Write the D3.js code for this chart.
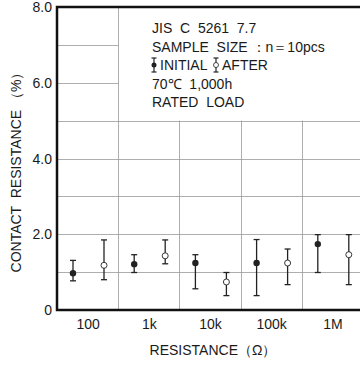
<!DOCTYPE html>
<html>
<head>
<meta charset="utf-8">
<script src="https://cdn.jsdelivr.net/npm/d3@7"></script>
<style>
  body { margin: 0; background: #fff; }
  text { font-family: "Liberation Sans", Arial, sans-serif; fill: #1a1a1a; white-space: pre; }
</style>
</head>
<body>
<svg id="chart"></svg>
<script>
const categories = ["100", "1k", "10k", "100k", "1M"];
const initialMean = [0.97, 1.21, 1.24, 1.24, 1.74];
const initialMin  = [0.77, 0.99, 0.56, 0.38, 0.99];
const initialMax  = [1.31, 1.46, 1.46, 1.86, 1.99];
const afterMean = [1.18, 1.43, 0.74, 1.24, 1.46];
const afterMin  = [0.80, 1.22, 0.38, 0.67, 0.67];
const afterMax  = [1.85, 1.85, 0.99, 1.61, 1.99];
const yTicks = [0, 2, 4, 6, 8];
const legendLines = ["JIS  C  5261  7.7", "SAMPLE  SIZE ：n＝10pcs", null, "70℃  1,000h", "RATED  LOAD"];

const width = 360, height = 365;
const mLeft = 57, mTop = 7, mBottom = 310, mRight = 363;
const svg = d3.select("#chart").attr("width", width).attr("height", height);

const x = d3.scaleBand().domain(categories).range([mLeft, mRight]);
const sub = d3.scalePoint().domain(["initial", "after"]).range([16, 47]);
const y = d3.scaleLinear().domain([0, 8]).range([mBottom, mTop]);

// grid
const grid = svg.append("g").attr("stroke", "#999").attr("stroke-width", 0.8);
[1, 2, 3, 4, 5, 6, 7].forEach(v => {
  grid.append("line")
    .attr("x1", mLeft).attr("x2", v > 5 ? x("1k") : width)
    .attr("y1", Math.round(y(v)) + 0.5).attr("y2", Math.round(y(v)) + 0.5);
});
categories.slice(1).forEach((c, i) => {
  grid.append("line")
    .attr("x1", Math.round(x(c)) + 0.5).attr("x2", Math.round(x(c)) + 0.5)
    .attr("y1", i === 0 ? mTop : y(5)).attr("y2", mBottom);
});

// frame
svg.append("path")
  .attr("d", `M${width},${mTop}H${mLeft}V${mBottom}H${width}`)
  .attr("fill", "none").attr("stroke", "#111").attr("stroke-width", 2.5);

// y tick labels
svg.append("g").selectAll("text").data(yTicks).join("text")
  .attr("x", 52).attr("y", d => y(d)).attr("dy", "0.36em")
  .attr("text-anchor", "end").attr("font-size", 14)
  .text(d => d === 0 ? "0" : d.toFixed(1));

// x tick labels
svg.append("g").selectAll("text").data(categories).join("text")
  .attr("x", d => x(d) + x.bandwidth() / 2 + 0.5).attr("y", 329)
  .attr("text-anchor", "middle").attr("font-size", 14)
  .text(d => d);

// axis titles
svg.append("text").attr("x", 213).attr("y", 355)
  .attr("text-anchor", "middle").attr("font-size", 14)
  .text("RESISTANCE（Ω）");
svg.append("text")
  .attr("transform", "translate(21,169) rotate(-90)")
  .attr("text-anchor", "middle").attr("font-size", 14)
  .text("CONTACT  RESISTANCE （%）");

// error bars
function drawSeries(key, mean, lo, hi, filled) {
  const g = svg.append("g").attr("stroke", "#222").attr("stroke-width", 1.3);
  categories.forEach((c, i) => {
    const cx = x(c) + sub(key);
    g.append("line").attr("x1", cx).attr("x2", cx).attr("y1", y(lo[i])).attr("y2", y(hi[i]));
    [lo[i], hi[i]].forEach(v => {
      g.append("line").attr("x1", cx - 3).attr("x2", cx + 3).attr("y1", y(v)).attr("y2", y(v));
    });
    g.append("circle").attr("cx", cx).attr("cy", y(mean[i]))
      .attr("r", filled ? 3.2 : 3)
      .attr("fill", filled ? "#222" : "#fff")
      .attr("stroke-width", filled ? 0 : 0.9);
  });
}
drawSeries("initial", initialMean, initialMin, initialMax, true);
drawSeries("after", afterMean, afterMin, afterMax, false);

// legend
const lg = svg.append("g").attr("font-size", 14);
legendLines.forEach((t, i) => {
  if (t) lg.append("text").attr("x", 152).attr("y", 33 + i * 18.5).text(t);
});
function legendMark(cx, cy, filled) {
  const g = lg.append("g").attr("stroke", "#222").attr("stroke-width", 1.2);
  g.append("line").attr("x1", cx).attr("x2", cx).attr("y1", cy - 7).attr("y2", cy + 7);
  g.append("line").attr("x1", cx - 2.5).attr("x2", cx + 2.5).attr("y1", cy - 7).attr("y2", cy - 7);
  g.append("line").attr("x1", cx - 2.5).attr("x2", cx + 2.5).attr("y1", cy + 7).attr("y2", cy + 7);
  g.append("circle").attr("cx", cx).attr("cy", cy).attr("r", 2.5)
    .attr("fill", filled ? "#222" : "#fff").attr("stroke-width", filled ? 0 : 0.8);
}
const ly = 33 + 2 * 18.5;
legendMark(154, ly - 5, true);
lg.append("text").attr("x", 160).attr("y", ly).text("INITIAL");
legendMark(216, ly - 5, false);
lg.append("text").attr("x", 222).attr("y", ly).text("AFTER");
</script>
</body>
</html>
